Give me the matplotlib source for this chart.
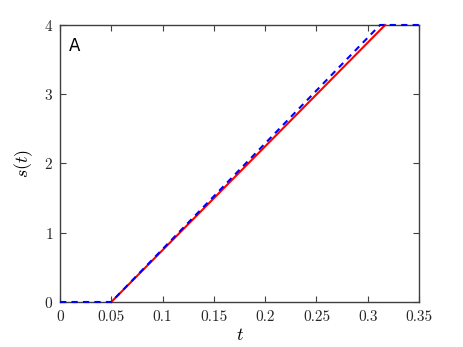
import numpy as np
import matplotlib
matplotlib.use("Agg")
import matplotlib.pyplot as plt

# data
# red: only the ramp is visible in the reference
t_red = [0.05, 0.317]
s_red = [0.0, 4.0]
# blue dashed: flat at 0, ramp, flat at 4
t_blue = [0.0, 0.05, 0.312, 0.35]
s_blue = [0.0, 0.0, 4.0, 4.0]
xticks = [0, 0.05, 0.1, 0.15, 0.2, 0.25, 0.3, 0.35]
xtick_labels = ["0", "0.05", "0.1", "0.15", "0.2", "0.25", "0.3", "0.35"]
yticks = [0, 1, 2, 3, 4]

plt.rcParams['font.family'] = 'serif'
plt.rcParams['font.serif'] = ['cmr10']
plt.rcParams['mathtext.fontset'] = 'cm'
plt.rcParams['axes.formatter.use_mathtext'] = True

fig = plt.figure(figsize=(4.63, 3.47), dpi=100)
ax = fig.add_axes([0.1296, 0.1297, 0.7754, 0.7983])

ax.plot(t_red, s_red, color='red', linewidth=1.5, zorder=3, clip_on=False)
ax.plot(t_blue, s_blue, color='blue', linestyle=(0, (3, 2.5)), linewidth=1.5,
        zorder=4, clip_on=False)

ax.set_xlim(0, 0.35)
ax.set_ylim(0, 4)
ax.set_xticks(xticks)
ax.set_xticklabels(xtick_labels)
ax.set_yticks(yticks)
ax.tick_params(direction='in', top=True, right=True, labelsize=11,
               color='#404040', labelcolor='#262626', length=4)
ax.tick_params(axis='x', pad=6)
ax.tick_params(axis='y', pad=5)
for sp in ax.spines.values():
    sp.set_color('#404040')
    sp.set_linewidth(1.0)

ax.set_xlabel('$t$', fontsize=13, labelpad=2)
ax.set_ylabel('$s(t)$', fontsize=13, labelpad=6)
ax.text(0.025, 0.955, 'A', transform=ax.transAxes, ha='left', va='top',
        fontsize=12, family='DejaVu Sans')

plt.savefig('out.png', dpi=100)
